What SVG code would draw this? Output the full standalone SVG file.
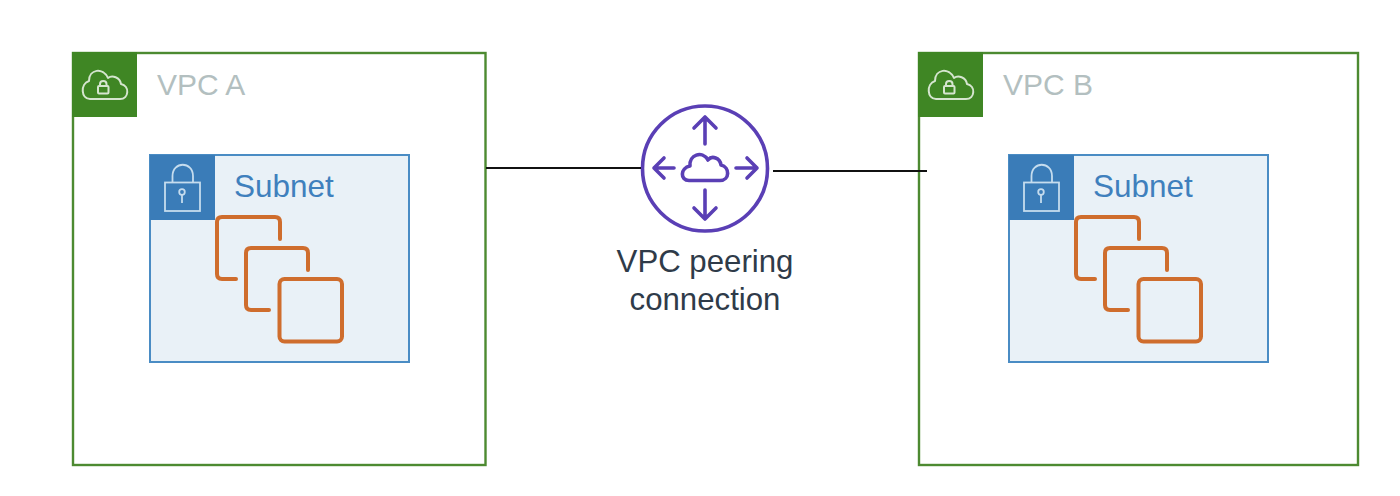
<svg xmlns="http://www.w3.org/2000/svg" width="1400" height="496" viewBox="0 0 1400 496">
<style>
.vpc{fill:#fff;stroke:#4d8a31;stroke-width:2.4}
.tab{fill:#3f8624}
.sub{fill:#e9f1f7;stroke:#4a8cc4;stroke-width:2}
.subtab{fill:#3a7cb8}
.wl{fill:none;stroke:#d5e5cf;stroke-width:2;stroke-linejoin:round}
.bl{fill:none;stroke:#c5dcee;stroke-width:1.800}
.inst{fill:none;stroke:#cf6d2d;stroke-width:4;stroke-linecap:round;stroke-linejoin:round}
.pur{fill:none;stroke:#5a3fb5;stroke-width:3.600;stroke-linecap:round;stroke-linejoin:round}
.conn{fill:none;stroke:#111;stroke-width:2}
text{font-family:"Liberation Sans",Arial,sans-serif}
.vt{font-size:30px;fill:#b3bfc0}
.st{font-size:31.500px;fill:#3f80bd}
.lb{font-size:31.200px;fill:#2f3b49;text-anchor:middle}
</style>
<defs>
<g id="cloudlock">
<path class="wl" d="M90 99H120C129 99 130 86 121 84C120 77 112 75 108 78C103 67 89 69 89 81C80 84 81 99 90 99Z"/>
<rect class="wl" x="98" y="86" width="10.500" height="7.500" rx="1"/>
<path class="wl" d="M100 86V84C100 80 106.500 80 106.500 84V86"/>
</g>
<g id="lock">
<path class="bl" d="M172.500 182V176C172.500 161 193 161 193 176V182"/>
<rect class="bl" x="165" y="182.500" width="35" height="28.500"/>
<circle class="bl" cx="182" cy="192" r="2.800"/>
<path class="bl" d="M182 195V203"/>
</g>
<g id="instances">
<path class="inst" d="M280 239V222Q280 217 275 217H222Q217 217 217 222V274Q217 279 222 279H236"/>
<path class="inst" d="M308 270V253Q308 248 303 248H251Q246 248 246 253V305Q246 310 251 310H269"/>
<rect class="inst" x="279.500" y="279" width="62.500" height="62.500" rx="5"/>
</g>
</defs>
<g id="vpc-a">
<rect class="vpc" x="73" y="53" width="412.500" height="412"/>
<rect class="tab" x="72" y="52" width="65" height="65"/>
<use href="#cloudlock"/>
<text class="vt" x="157" y="95">VPC A</text>
</g>
<g id="subnet-a">
<rect class="sub" x="150" y="155" width="259" height="207"/>
<rect class="subtab" x="150" y="155" width="65" height="65"/>
<use href="#lock"/>
<text class="st" x="234" y="197">Subnet</text>
<use href="#instances"/>
</g>
<g id="vpc-b">
<rect class="vpc" x="919" y="53" width="439" height="412"/>
<rect class="tab" x="918" y="52" width="65" height="65"/>
<use href="#cloudlock" x="846"/>
<text class="vt" x="1003" y="95">VPC B</text>
</g>
<g id="subnet-b">
<rect class="sub" x="1009" y="155" width="259" height="207"/>
<rect class="subtab" x="1009" y="155" width="65" height="65"/>
<use href="#lock" x="859"/>
<text class="st" x="1093" y="197">Subnet</text>
<use href="#instances" x="859"/>
</g>
<g id="peering">
<circle class="pur" cx="705" cy="168.500" r="62.500"/>
<path class="pur" d="M705 144V117M694 128L705 117L716 128"/>
<path class="pur" d="M705 190V219M694 208L705 219L716 208"/>
<path class="pur" d="M674 168H654M664 158L654 168L664 178"/>
<path class="pur" d="M736 168H757M747 158L757 168L747 178"/>
<path class="pur" d="M689 180.500H720C730 180.500 730 167 721 165C720 158 712 155 708 160C702 150 689 155 690 166C680 168 680 180.500 689 180.500Z"/>
<text class="lb" x="705" y="272">VPC peering</text>
<text class="lb" x="705" y="310">connection</text>
</g>
<g id="connectors">
<path class="conn" d="M486 168H641"/>
<path class="conn" d="M773 171H927"/>
</g>
</svg>
